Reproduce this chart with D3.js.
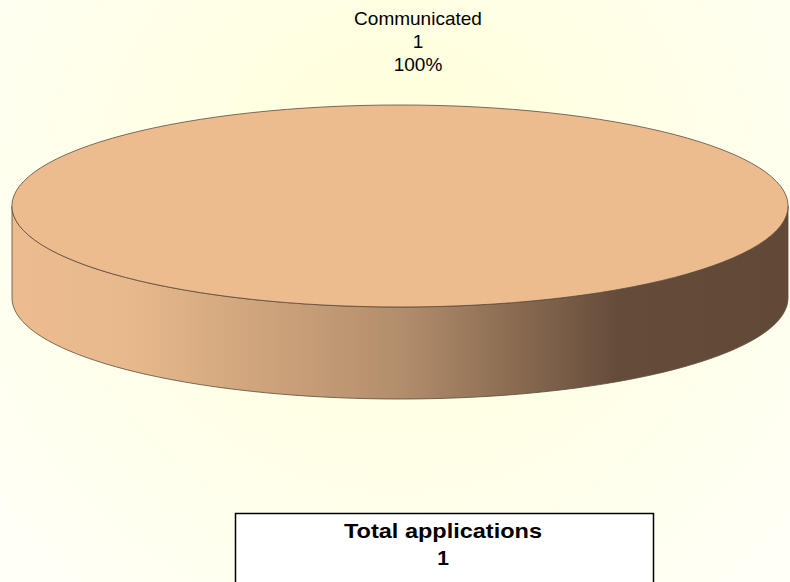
<!DOCTYPE html>
<meta charset="utf-8">
<script src="https://d3js.org/d3.v7.min.js"></script>
<style>
  body { margin: 0; }
  svg { display: block; font-family: "Liberation Sans", Arial, sans-serif; }
</style>
<div id="chart"></div>
<script>

var categories = ["Communicated"];
var values = [1];
var colors = ["#ecbc8f"];
var totalLabel = "Total applications";

var width = 790, height = 582;
var cx = 400, cy = 206, rx = 388, ry = 101, depth = 92;

var svg = d3.select("#chart").append("svg")
    .attr("width", width)
    .attr("height", height);

var defs = svg.append("defs");

var bg = defs.append("radialGradient")
    .attr("id", "bg")
    .attr("gradientUnits", "userSpaceOnUse")
    .attr("cx", 400).attr("cy", 190).attr("r", 520);
bg.append("stop").attr("offset", "0").attr("stop-color", "#ffffd8");
bg.append("stop").attr("offset", "1").attr("stop-color", "#fffff6");

var side = defs.append("linearGradient")
    .attr("id", "side")
    .attr("gradientUnits", "userSpaceOnUse")
    .attr("x1", cx - rx).attr("x2", cx + rx)
    .attr("y1", 0).attr("y2", 0);
[[0, "#ecbc8f"], [0.15, "#e8b98c"], [0.5, "#b38e6c"], [0.78, "#654c3a"], [1, "#614937"]]
  .forEach(function(s) {
    side.append("stop").attr("offset", s[0]).attr("stop-color", s[1]);
  });

svg.append("rect")
    .attr("width", width)
    .attr("height", height)
    .attr("fill", "url(#bg)");

var total = d3.sum(values);
var pie = d3.pie().sort(null).value(function(d) { return d; });
var slices = pie(values);

// point on the ellipse for a d3 pie angle (0 = top, clockwise)
function pt(a, dy) {
  return [cx + rx * Math.sin(a), cy - ry * Math.cos(a) + dy];
}

// side wall: only the front half (angles pi/2 .. 3pi/2) is visible
var sideG = svg.append("g");
slices.forEach(function(s, i) {
  var a0 = Math.max(s.startAngle, Math.PI / 2);
  var a1 = Math.min(s.endAngle, 3 * Math.PI / 2);
  if (a1 <= a0) return;
  var n = 80, top = [], bot = [];
  for (var k = 0; k <= n; k++) {
    var a = a0 + (a1 - a0) * k / n;
    top.push(pt(a, 0));
    bot.push(pt(a, depth));
  }
  var pts = top.concat(bot.reverse());
  sideG.append("path")
      .attr("d", d3.line()(pts) + "Z")
      .attr("fill", "url(#side)")
      .attr("stroke", "#5a4a3c")
      .attr("stroke-width", 0.8);
});

// top face
var arc = d3.arc().innerRadius(0).outerRadius(rx);
svg.append("g")
    .attr("transform", "translate(" + cx + "," + cy + ") scale(1," + (ry / rx) + ")")
  .selectAll("path")
  .data(slices)
  .enter().append("path")
    .attr("d", arc)
    .attr("fill", function(d, i) { return colors[i]; })
    .attr("stroke", "#5a4a3c")
    .attr("stroke-width", 0.8)
    .attr("vector-effect", "non-scaling-stroke");

// slice label
slices.forEach(function(s, i) {
  var t = svg.append("text")
      .attr("x", 418)
      .attr("text-anchor", "middle")
      .attr("font-size", 19)
      .attr("fill", "#000");
  [categories[i], values[i], d3.format(".0%")(values[i] / total)].forEach(function(line, j) {
    t.append("tspan").attr("x", 418).attr("y", 25 + j * 23).text(line);
  });
});

// total box
svg.append("rect")
    .attr("x", 235.5).attr("y", 513.5)
    .attr("width", 418).attr("height", 90)
    .attr("fill", "#fff")
    .attr("stroke", "#000")
    .attr("stroke-width", 1.5);

svg.append("text")
    .attr("x", 443).attr("y", 538)
    .attr("text-anchor", "middle")
    .attr("font-size", 21)
    .attr("font-weight", "bold")
    .attr("textLength", 198)
    .attr("lengthAdjust", "spacingAndGlyphs")
    .text(totalLabel);

svg.append("text")
    .attr("x", 443).attr("y", 565)
    .attr("text-anchor", "middle")
    .attr("font-size", 21)
    .attr("font-weight", "bold")
    .text(total);

</script>
